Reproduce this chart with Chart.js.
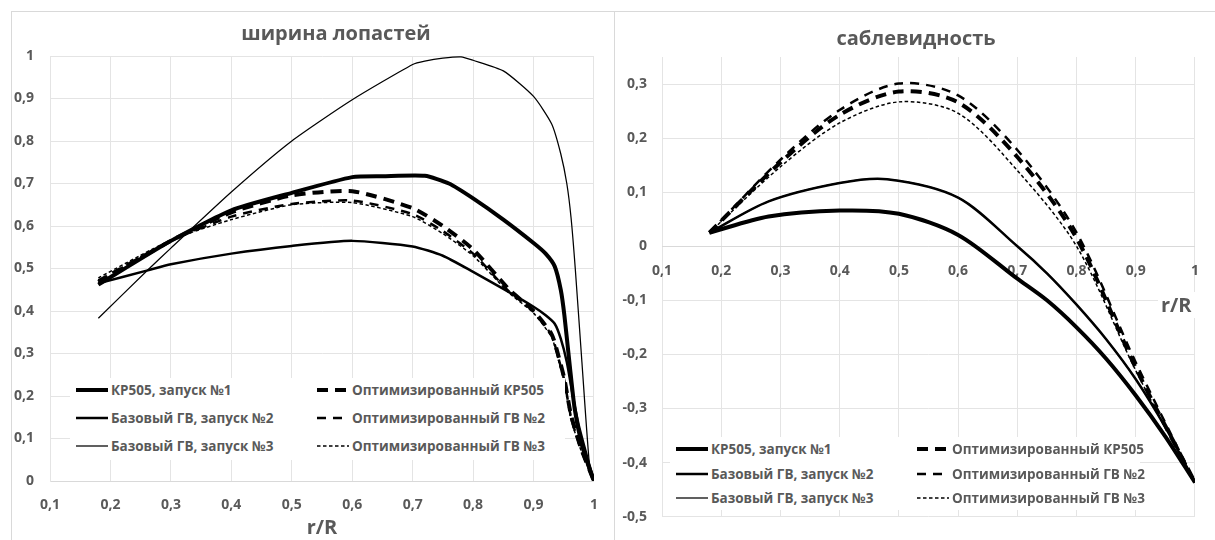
<!DOCTYPE html>
<html lang="ru">
<head>
<meta charset="utf-8">
<title>ширина лопастей / саблевидность</title>
<script src="https://cdn.jsdelivr.net/npm/chart.js@4.4.1/dist/chart.umd.min.js"></script>
<style>
  body { margin: 0; width: 1215px; height: 540px; overflow: hidden; position: relative; background: #fff; font-family: "Open Sans", sans-serif; }
  .frame { position: absolute; top: 11px; height: 560px; border: 1px solid #d9d9d9; box-sizing: border-box; }
  #frameLeft { left: 11px; width: 604px; }
  #frameRight { left: 614px; width: 640px; }
  canvas { position: absolute; }
  #widthChart { left: 11px; top: 11px; }
  #sweepChart { left: 614px; top: 11px; }
  .chart-title { position: absolute; width: 240px; text-align: center; font: bold 20px "Open Sans", sans-serif; line-height: 26px; color: #595959; }
  #widthTitle { left: 216px; top: 20px; }
  #sweepTitle { left: 796px; top: 25px; }
  .legend { position: absolute; background: #fff; }
  #widthLegend { left: 70px; top: 378px; width: 495px; height: 82px; }
  #sweepLegend { left: 670px; top: 437px; width: 470px; height: 73px; }
  .legend-item { position: absolute; height: 20px; display: flex; align-items: center; white-space: nowrap; font: bold 13.5px "Open Sans", sans-serif; color: #595959; }
  .legend-item svg { margin-right: 3px; }
  #sweepAxisTitle { position: absolute; left: 1158px; top: 292px; padding: 0 3px; background: #fff; font: bold 20px "Open Sans", sans-serif; color: #595959; line-height: 26px; }
</style>
</head>
<body>
<div class="frame" id="frameLeft"></div>
<div class="frame" id="frameRight"></div>
<canvas id="widthChart" width="603" height="529"></canvas>
<canvas id="sweepChart" width="601" height="529"></canvas>
<div class="chart-title" id="widthTitle">ширина лопастей</div>
<div class="chart-title" id="sweepTitle">саблевидность</div>
<div class="legend" id="widthLegend"></div>
<div class="legend" id="sweepLegend"></div>
<div id="sweepAxisTitle">r/R</div>
<script>
// Series names and line styles
const seriesLabels = ['КР505, запуск №1', 'Базовый ГВ, запуск №2', 'Базовый ГВ, запуск №3',
                      'Оптимизированный КР505', 'Оптимизированный ГВ №2', 'Оптимизированный ГВ №3'];
const seriesWidths = [4, 2.5, 1.25, 4, 2.5, 1.5];
const seriesDashes = [[], [], [], [11, 7], [9, 7], [3.5, 2.5]];

// x axis ticks (r/R)
const rTicks = [0.1, 0.2, 0.3, 0.4, 0.5, 0.6, 0.7, 0.8, 0.9, 1];

// ширина лопастей
const width1R = [0.18, 0.3, 0.4, 0.5, 0.6, 0.65, 0.72, 0.76, 0.8, 0.85, 0.9, 0.92, 0.935, 0.945, 0.951, 0.96, 0.968, 0.979, 0.99, 1.0];
const width1 = [0.462, 0.565, 0.637, 0.678, 0.715, 0.717, 0.718, 0.7, 0.665, 0.615, 0.56, 0.535, 0.505, 0.45, 0.39, 0.27, 0.17, 0.09, 0.04, 0];
const width2R = [0.18, 0.26, 0.3, 0.4, 0.5, 0.6, 0.7, 0.75, 0.8, 0.85, 0.9, 0.92, 0.935, 0.945, 0.955, 0.965, 0.975, 0.99, 1.0];
const width2 = [0.465, 0.495, 0.51, 0.535, 0.553, 0.565, 0.552, 0.53, 0.492, 0.452, 0.41, 0.39, 0.37, 0.335, 0.28, 0.2, 0.13, 0.05, 0];
const width3R = [0.18, 0.26, 0.3, 0.4, 0.5, 0.6, 0.7, 0.72, 0.75, 0.78, 0.8, 0.85, 0.9, 0.93, 0.945, 0.955, 0.962, 0.969, 0.98, 0.993, 1.0];
const width3 = [0.383, 0.494, 0.548, 0.68, 0.8, 0.897, 0.98, 0.988, 0.995, 0.998, 0.99, 0.965, 0.905, 0.84, 0.77, 0.7, 0.62, 0.5, 0.28, 0.03, 0];
const widthOptR = [0.18, 0.3, 0.4, 0.5, 0.6, 0.7, 0.75, 0.8, 0.86, 0.9, 0.93, 0.941, 0.951, 0.962, 0.979, 1.0];
const width4 = [0.468, 0.565, 0.632, 0.672, 0.682, 0.642, 0.6, 0.545, 0.45, 0.4, 0.345, 0.295, 0.24, 0.155, 0.075, 0];
const width5 = [0.472, 0.565, 0.622, 0.652, 0.66, 0.628, 0.588, 0.535, 0.445, 0.4, 0.342, 0.29, 0.236, 0.15, 0.072, 0];
const width6 = [0.478, 0.567, 0.615, 0.65, 0.655, 0.622, 0.582, 0.53, 0.442, 0.395, 0.338, 0.285, 0.232, 0.145, 0.07, 0];

// саблевидность
const sweep1R = [0.18, 0.28, 0.4, 0.5, 0.6, 0.7, 0.75, 0.8, 0.85, 0.9, 0.95, 1.0];
const sweep1 = [0.025, 0.055, 0.066, 0.06, 0.021, -0.06, -0.1, -0.15, -0.208, -0.276, -0.352, -0.437];
const sweep2R = [0.18, 0.28, 0.4, 0.48, 0.6, 0.7, 0.75, 0.8, 0.85, 0.9, 0.95, 1.0];
const sweep2 = [0.025, 0.083, 0.117, 0.124, 0.09, 0.0, -0.05, -0.108, -0.172, -0.246, -0.335, -0.437];
const sweep3 = [0.025, 0.083, 0.117, 0.124, 0.09, 0.0, -0.05, -0.108, -0.172, -0.246, -0.335, -0.437];
const sweepOptR = [0.18, 0.3, 0.4, 0.5, 0.6, 0.7, 0.8, 0.9, 1.0];
const sweep4 = [0.025, 0.155, 0.243, 0.286, 0.266, 0.165, 0.015, -0.225, -0.437];
const sweep5 = [0.025, 0.16, 0.252, 0.301, 0.279, 0.178, 0.025, -0.215, -0.437];
const sweep6 = [0.025, 0.147, 0.228, 0.267, 0.246, 0.14, 0.0, -0.23, -0.437];

const textColor = '#595959';
const gridColor = '#e4e4e4';
const fontFamily = '"Open Sans", sans-serif';
const tickFont = { family: fontFamily, size: 14, weight: 'bold' };
const titleFont = { family: fontFamily, size: 20, weight: 'bold' };

// 0.3 -> "0,3"
function formatTick(value) {
    return String(Math.round(value * 100) / 100).replace('.', ',');
}

function buildDatasets(xLists, yLists, tension) {
    return seriesLabels.map((label, i) => ({
        label: label,
        data: xLists[i].map((x, j) => ({ x: x, y: yLists[i][j] })),
        borderColor: '#000',
        borderWidth: seriesWidths[i],
        borderDash: seriesDashes[i],
        borderJoinStyle: 'round',
        pointRadius: 0,
        fill: false,
        tension: tension
    }));
}

// HTML legend, two columns of three
function renderLegend(containerId, datasets, rowGap) {
    const container = document.getElementById(containerId);
    container.innerHTML = datasets.map((ds, i) => {
        const col = Math.floor(i / 3);
        const row = i % 3;
        return `
        <div class="legend-item" style="left:${6 + col * 241}px; top:${2 + row * rowGap}px">
            <svg width="32" height="10"><line x1="0" y1="5" x2="32" y2="5" stroke="#000"
                stroke-width="${ds.borderWidth}" stroke-dasharray="${ds.borderDash.join(' ')}"/></svg>
            <span>${ds.label}</span>
        </div>`;
    }).join('');
}

const rTickCallback = (scale) => {
    scale.ticks = rTicks.map(v => ({ value: v }));
};

// Blade width chart
const widthDatasets = buildDatasets(
    [width1R, width2R, width3R, widthOptR, widthOptR, widthOptR],
    [width1, width2, width3, width4, width5, width6], 0.2);

new Chart(document.getElementById('widthChart'), {
    type: 'line',
    data: { datasets: widthDatasets },
    options: {
        responsive: false,
        animation: false,
        layout: { padding: { left: 0, right: 11, top: 45, bottom: 0 } },
        plugins: {
            legend: { display: false },
            tooltip: { enabled: false }
        },
        scales: {
            x: {
                type: 'linear', min: 0.1, max: 1,
                afterBuildTicks: rTickCallback,
                ticks: { callback: formatTick, color: textColor, font: tickFont, padding: 16, maxRotation: 0 },
                grid: { color: gridColor, drawTicks: false },
                border: { color: '#d9d9d9' },
                title: { display: true, text: 'r/R', color: textColor, font: titleFont, padding: { top: 0, bottom: 0 } },
                afterFit: (scale) => { scale.height = 59; }
            },
            y: {
                min: 0, max: 1,
                ticks: { stepSize: 0.1, callback: formatTick, color: textColor, font: tickFont, padding: 16 },
                grid: { color: gridColor, drawTicks: false },
                border: { color: gridColor },
                afterFit: (scale) => { scale.width = 39; }
            }
        }
    }
});

// Sweep chart
const sweepDatasets = buildDatasets(
    [sweep1R, sweep2R, sweep2R, sweepOptR, sweepOptR, sweepOptR],
    [sweep1, sweep2, sweep3, sweep4, sweep5, sweep6], 0.3);

new Chart(document.getElementById('sweepChart'), {
    type: 'line',
    data: { datasets: sweepDatasets },
    options: {
        responsive: false,
        animation: false,
        layout: { padding: { left: 0, right: 8, top: 46, bottom: 12 } },
        plugins: {
            legend: { display: false },
            tooltip: { enabled: false }
        },
        scales: {
            x: {
                type: 'linear', min: 0.1, max: 1,
                position: { y: 0 },
                afterBuildTicks: rTickCallback,
                ticks: { callback: formatTick, color: textColor, font: tickFont, padding: 16, maxRotation: 0 },
                grid: { color: gridColor, drawTicks: false },
                border: { color: '#d9d9d9' }
            },
            y: {
                min: -0.5, max: 0.35,
                ticks: { stepSize: 0.1, callback: formatTick, color: textColor, font: tickFont, padding: 15 },
                afterBuildTicks: (scale) => {
                    scale.ticks = scale.ticks.filter(t => t.value < 0.34);
                },
                grid: { color: gridColor, drawTicks: false },
                border: { display: false },
                afterFit: (scale) => { scale.width = 48; }
            }
        }
    }
});

renderLegend('widthLegend', widthDatasets, 28);
renderLegend('sweepLegend', sweepDatasets, 24.5);
</script>
</body>
</html>
